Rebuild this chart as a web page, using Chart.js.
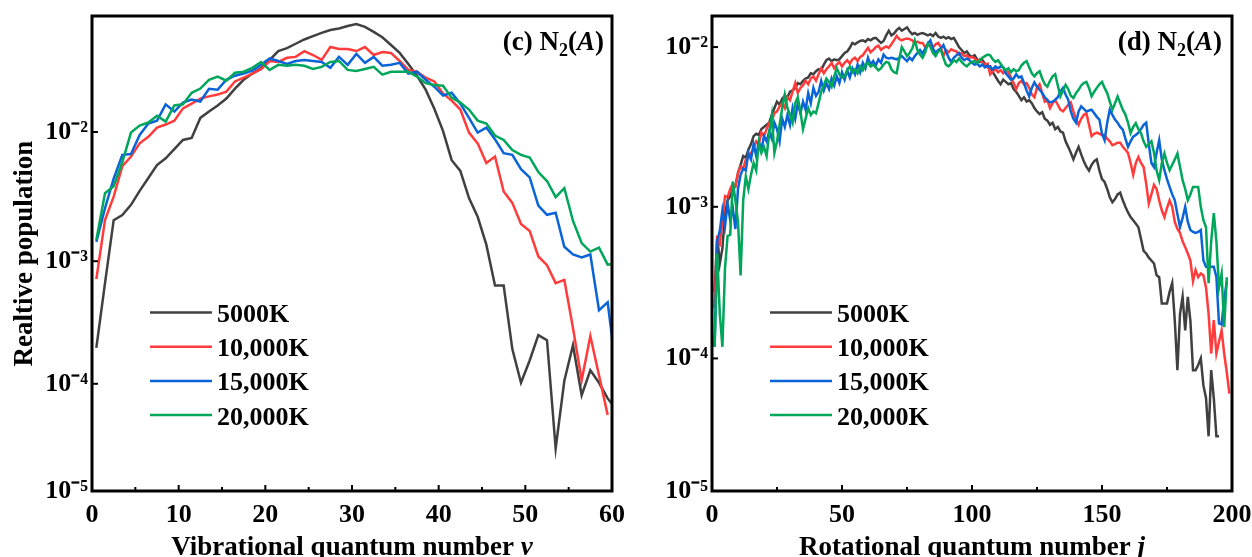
<!DOCTYPE html>
<html><head><meta charset="utf-8">
<script src="https://cdn.jsdelivr.net/npm/chart.js@4.4.1/dist/chart.umd.min.js"></script>
<style>
html,body{margin:0;padding:0;background:#fff;}
#wrap{position:relative;width:1252px;height:557px;overflow:hidden;background:#fff;}
canvas{position:absolute;top:0;}
#c1{left:0;} #c2{left:626px;}
</style></head><body>
<div id="wrap"><canvas id="c1" width="626" height="557" style="width:626px;height:557px"></canvas><canvas id="c2" width="626" height="557" style="width:626px;height:557px"></canvas></div>
<script>
// ---------------- DATA ----------------
const seriesLabels = ['5000K', '10,000K', '15,000K', '20,000K'];

// Panel (c): vibrational distribution
const vLevels = [0.5,1.5,2.5,3.5,4.5,5.5,6.5,7.5,8.5,9.5,10.5,11.5,12.5,13.5,14.5,15.5,16.5,17.5,18.5,19.5,20.5,21.5,22.5,23.5,24.5,25.5,26.5,27.5,28.5,29.5,30.5,31.5,32.5,33.5,34.5,35.5,36.5,37.5,38.5,39.5,40.5,41.5,42.5,43.5,44.5,45.5,46.5,47.5,48.5,49.5,50.5,51.5,52.5,53.5,54.5,55.5,56.5,57.5,58.5,59.5,60.5];
const vib5000 = [2.0e-4,6.7e-4,2.1e-3,2.3e-3,2.76e-3,3.54e-3,4.45e-3,5.6e-3,6.3e-3,7.4e-3,
 8.7e-3,9.0e-3,1.28e-2,1.43e-2,1.59e-2,1.79e-2,2.13e-2,2.48e-2,2.76e-2,3.03e-2,
 3.49e-2,4.06e-2,4.28e-2,4.61e-2,4.96e-2,5.25e-2,5.56e-2,5.83e-2,5.98e-2,6.25e-2,
 6.47e-2,6.15e-2,5.65e-2,5.15e-2,4.51e-2,3.94e-2,3.26e-2,2.66e-2,2.09e-2,1.50e-2,
 1.02e-2,6.1e-3,5.05e-3,3.12e-3,2.23e-3,1.35e-3,6.4e-4,6.4e-4,1.95e-4,1.02e-4,
 1.57e-4,2.54e-4,2.31e-4,2.7e-5,1.06e-4,2.1e-4,8.0e-5,1.30e-4,1.02e-4,7.5e-5,6.0e-5];
const vib10000 = [7.2e-4,2.1e-3,3.2e-3,5.5e-3,6.5e-3,8.2e-3,9.2e-3,1.08e-2,1.14e-2,1.22e-2,
 1.51e-2,1.64e-2,1.79e-2,1.86e-2,1.92e-2,2.02e-2,2.41e-2,2.57e-2,2.76e-2,2.98e-2,
 3.43e-2,3.37e-2,3.62e-2,3.68e-2,4.06e-2,3.80e-2,3.49e-2,4.36e-2,4.21e-2,4.21e-2,
 4.07e-2,4.36e-2,3.80e-2,4.0e-2,3.94e-2,3.43e-2,2.94e-2,2.85e-2,2.57e-2,2.41e-2,
 1.96e-2,1.73e-2,1.48e-2,9.9e-3,8.2e-3,5.8e-3,6.5e-3,3.5e-3,2.86e-3,1.96e-3,
 1.73e-3,1.09e-3,9.3e-4,6.7e-4,7.1e-4,2.9e-4,1.07e-4,2.5e-4,1.18e-4,5.4e-5];
const vib15000 = [1.42e-3,2.6e-3,4.4e-3,6.7e-3,6.8e-3,9.5e-3,1.16e-2,1.22e-2,1.62e-2,1.43e-2,
 1.67e-2,1.76e-2,1.70e-2,2.12e-2,2.09e-2,2.48e-2,2.66e-2,2.76e-2,2.90e-2,3.21e-2,
 3.58e-2,3.43e-2,3.26e-2,3.43e-2,3.49e-2,3.43e-2,3.37e-2,3.05e-2,3.68e-2,3.21e-2,
 3.87e-2,3.32e-2,3.68e-2,3.16e-2,3.21e-2,3.32e-2,2.76e-2,2.85e-2,2.48e-2,2.20e-2,
 1.89e-2,1.98e-2,1.64e-2,1.28e-2,9.9e-3,1.08e-2,8.8e-3,6.9e-3,6.7e-3,5.2e-3,
 4.5e-3,2.72e-3,2.31e-3,2.40e-3,1.30e-3,1.13e-3,1.07e-3,1.13e-3,4.06e-4,4.7e-4,1.25e-4];
const vib20000 = [1.47e-3,3.4e-3,3.85e-3,5.9e-3,9.9e-3,1.12e-2,1.18e-2,1.33e-2,1.20e-2,1.59e-2,
 1.62e-2,1.98e-2,2.13e-2,2.48e-2,2.62e-2,2.44e-2,2.80e-2,2.85e-2,3.05e-2,3.37e-2,
 2.94e-2,3.21e-2,3.16e-2,3.21e-2,3.16e-2,2.99e-2,3.10e-2,3.37e-2,3.43e-2,2.94e-2,
 2.89e-2,2.99e-2,3.10e-2,2.71e-2,2.85e-2,2.85e-2,2.85e-2,2.62e-2,2.34e-2,2.27e-2,
 2.24e-2,1.82e-2,1.67e-2,1.48e-2,1.22e-2,1.16e-2,9.4e-3,8.7e-3,7.3e-3,6.7e-3,
 6.4e-3,4.95e-3,4.22e-3,3.17e-3,3.72e-3,2.07e-3,1.39e-3,1.19e-3,1.28e-3,9.4e-4,9.5e-4];

// Panel (d): rotational distribution
const jLevels = [1,2,3,4,5,6,7,8,9,10,11,12,13,14,15,16,17,18,19,20,21,22,23,24,25,26,27,28,29,30,
 31,32,33,34,35,36,37,38,39,40,41,42,43,44,45,46,47,48,49,50,51,52,53,54,55,56,57,58,59,60,
 61,62,63,64,65,66,67,68,69,70,71,72,73,74,75,76,77,78,79,80,81,82,83,84,85,86,87,88,89,90,
 91,92,93,94,95,96,97,98,99,100,101,102,103,104,105,106,107,108,109,110,111,112,113,114,115,116,117,118,119,120,
 121,122,123,124,125,126,127,128,129,130,131,132,133,134,135,136,137,138,139,140,141,142,143,144,145,146,147,148,149,150,
 151,152,153,154,155,156,157,158,159,160,161,162,163,164,165,166,167,168,169,170,171,172,173,174,175,176,177,178,179,180,
 181,182,183,184,185,186,187,188,189,190,191,192,193,194,195,196,197,198,199];
const rot5000 = [2.8e-4,6.5e-4,4.3e-4,5.4e-4,9.0e-4,1.1e-3,1.17e-3,1.3e-3,1.35e-3,1.64e-3,
 1.85e-3,2.1e-3,2.05e-3,2.3e-3,2.5e-3,2.8e-3,2.9e-3,2.85e-3,3.1e-3,3.2e-3,
 3.3e-3,3.4e-3,3.8e-3,4.2e-3,4.6e-3,4.4e-3,4.8e-3,5.0e-3,4.9e-3,5.3e-3,
 5.4e-3,5.6e-3,6.0e-3,5.9e-3,6.2e-3,6.4e-3,6.5e-3,6.9e-3,6.8e-3,7.1e-3,
 7.3e-3,7.2e-3,7.8e-3,8.3e-3,8.5e-3,8.2e-3,8.4e-3,8.3e-3,8.4e-3,8.8e-3,
 9.2e-3,9.4e-3,9.9e-3,1.06e-2,1.04e-2,1.07e-2,1.09e-2,1.1e-2,1.08e-2,1.12e-2,
 1.1e-2,1.13e-2,1.14e-2,1.1e-2,1.06e-2,1.09e-2,1.18e-2,1.26e-2,1.18e-2,1.21e-2,
 1.27e-2,1.31e-2,1.26e-2,1.29e-2,1.32e-2,1.25e-2,1.2e-2,1.22e-2,1.19e-2,1.21e-2,
 1.22e-2,1.2e-2,1.18e-2,1.2e-2,1.17e-2,1.22e-2,1.16e-2,1.14e-2,1.16e-2,1.13e-2,
 1.15e-2,1.12e-2,1.14e-2,1.07e-2,1.0e-2,9.6e-3,9.2e-3,9.4e-3,8.9e-3,8.7e-3,
 8.9e-3,8.4e-3,8.1e-3,8.3e-3,7.9e-3,7.5e-3,7.6e-3,7.0e-3,6.6e-3,6.2e-3,
 5.9e-3,6.3e-3,6.1e-3,5.9e-3,6.0e-3,5.5e-3,5.3e-3,5.0e-3,4.7e-3,4.9e-3,
 4.6e-3,4.7e-3,4.5e-3,4.2e-3,4.0e-3,3.85e-3,3.95e-3,3.6e-3,3.5e-3,3.3e-3,
 3.4e-3,3.1e-3,3.2e-3,3.0e-3,2.95e-3,2.6e-3,2.4e-3,2.2e-3,2.0e-3,2.2e-3,
 2.4e-3,2.15e-3,1.95e-3,1.8e-3,1.7e-3,1.85e-3,1.95e-3,2.0e-3,1.7e-3,1.5e-3,
 1.44e-3,1.3e-3,1.15e-3,1.07e-3,1.12e-3,1.2e-3,1.23e-3,1.1e-3,1.0e-3,9.2e-4,
 8.6e-4,8.2e-4,7.8e-4,7.4e-4,6.2e-4,5.2e-4,5.0e-4,4.7e-4,4.5e-4,4.3e-4,
 3.6e-4,3.5e-4,2.35e-4,2.35e-4,2.35e-4,2.8e-4,3.2e-4,1.8e-4,8.3e-5,2.0e-4,
 2.6e-4,1.55e-4,2.6e-4,1.8e-4,8.3e-5,8.3e-5,9.0e-5,1.0e-4,6.5e-5,5.3e-5,
 2.8e-5,8.3e-5,5.3e-5,2.8e-5,2.8e-5];
const rot10000 = [2.2e-4,6.2e-4,5.8e-4,8.0e-4,1.17e-3,1.15e-3,1.3e-3,1.4e-3,1.35e-3,1.64e-3,
 1.8e-3,1.75e-3,2.0e-3,2.05e-3,2.2e-3,2.33e-3,2.6e-3,2.5e-3,2.95e-3,2.8e-3,
 3.1e-3,3.4e-3,3.5e-3,3.9e-3,4.0e-3,4.3e-3,4.5e-3,4.2e-3,4.9e-3,4.7e-3,
 5.3e-3,6.0e-3,5.2e-3,5.6e-3,5.8e-3,6.2e-3,5.9e-3,6.4e-3,6.6e-3,6.2e-3,
 6.8e-3,7.4e-3,6.9e-3,7.3e-3,7.6e-3,8.0e-3,7.4e-3,7.8e-3,8.1e-3,7.6e-3,
 8.0e-3,8.3e-3,7.9e-3,8.4e-3,8.6e-3,8.2e-3,8.7e-3,8.9e-3,9.4e-3,9.9e-3,
 9.3e-3,9.6e-3,1.0e-2,1.02e-2,9.6e-3,9.9e-3,1.01e-2,9.9e-3,1.04e-2,1.1e-2,
 1.17e-2,1.12e-2,1.1e-2,1.12e-2,1.13e-2,1.12e-2,1.1e-2,1.05e-2,1.08e-2,1.06e-2,
 1.06e-2,1.0e-2,1.03e-2,1.03e-2,1.0e-2,1.04e-2,1.06e-2,1.0e-2,8.8e-3,9.6e-3,
 9.3e-3,9.7e-3,9.5e-3,9.4e-3,9.0e-3,9.2e-3,8.8e-3,8.9e-3,8.6e-3,8.7e-3,
 8.5e-3,8.2e-3,8.4e-3,8.0e-3,7.8e-3,7.9e-3,6.8e-3,7.1e-3,7.3e-3,7.0e-3,
 7.2e-3,6.9e-3,7.1e-3,7.0e-3,6.5e-3,6.0e-3,5.5e-3,6.0e-3,6.2e-3,5.9e-3,
 6.0e-3,5.6e-3,5.1e-3,4.9e-3,5.6e-3,5.9e-3,5.2e-3,4.6e-3,4.7e-3,4.2e-3,
 4.5e-3,4.7e-3,4.4e-3,4.1e-3,4.0e-3,4.2e-3,4.4e-3,4.55e-3,4.0e-3,3.6e-3,
 3.3e-3,3.6e-3,3.8e-3,3.9e-3,3.3e-3,2.8e-3,2.9e-3,2.95e-3,2.9e-3,2.85e-3,
 2.85e-3,2.7e-3,2.6e-3,2.46e-3,2.5e-3,2.55e-3,2.55e-3,2.4e-3,2.3e-3,2.2e-3,
 1.9e-3,1.6e-3,1.9e-3,2.07e-3,1.9e-3,1.79e-3,1.4e-3,1.05e-3,1.2e-3,1.38e-3,
 1.3e-3,1.1e-3,9.5e-4,8.6e-4,9.8e-4,1.1e-3,1.0e-3,8.0e-4,7.2e-4,6.8e-4,
 6.0e-4,5.5e-4,5.0e-4,4.5e-4,3.3e-4,3.9e-4,3.5e-4,3.7e-4,3.6e-4,3.0e-4,
 2.0e-4,1.08e-4,1.82e-4,1.08e-4,1.3e-4,1.55e-4,1.08e-4,8.0e-5,5.7e-5];
const rot15000 = [1.2e-4,6.0e-4,7.0e-4,9.5e-4,7.5e-4,1.05e-3,8.2e-4,9.8e-4,7.2e-4,1.3e-3,
 1.6e-3,1.75e-3,1.7e-3,2.2e-3,2.0e-3,2.5e-3,2.1e-3,2.6e-3,2.3e-3,2.8e-3,
 2.6e-3,3.0e-3,2.7e-3,3.4e-3,3.1e-3,2.6e-3,3.6e-3,3.2e-3,3.8e-3,3.3e-3,
 4.2e-3,3.6e-3,4.5e-3,3.9e-3,4.6e-3,4.1e-3,5.2e-3,4.5e-3,5.6e-3,5.0e-3,
 5.3e-3,6.2e-3,5.4e-3,6.0e-3,5.5e-3,6.4e-3,5.8e-3,6.6e-3,6.0e-3,7.0e-3,
 6.3e-3,7.2e-3,6.5e-3,7.4e-3,6.8e-3,7.8e-3,7.0e-3,8.0e-3,7.4e-3,8.6e-3,
 7.8e-3,8.2e-3,7.7e-3,8.4e-3,8.0e-3,9.0e-3,8.6e-3,8.5e-3,8.6e-3,8.5e-3,
 8.4e-3,8.6e-3,8.8e-3,8.5e-3,8.2e-3,8.6e-3,8.3e-3,8.8e-3,9.2e-3,9.6e-3,
 9.1e-3,9.8e-3,1.05e-2,1.1e-2,9.8e-3,9.2e-3,9.6e-3,9.8e-3,1.03e-2,9.4e-3,
 8.6e-3,8.1e-3,8.6e-3,8.9e-3,9.2e-3,8.6e-3,8.3e-3,8.5e-3,8.3e-3,8.0e-3,
 7.8e-3,7.9e-3,7.6e-3,7.8e-3,7.5e-3,7.7e-3,7.5e-3,7.3e-3,7.6e-3,7.4e-3,
 7.6e-3,7.5e-3,6.9e-3,6.6e-3,6.3e-3,6.4e-3,6.8e-3,6.5e-3,6.6e-3,6.0e-3,
 5.4e-3,4.96e-3,5.6e-3,6.05e-3,5.7e-3,5.45e-3,5.2e-3,4.9e-3,4.7e-3,4.55e-3,
 4.6e-3,4.73e-3,4.9e-3,5.3e-3,5.6e-3,5.1e-3,4.73e-3,4.0e-3,3.6e-3,3.4e-3,
 4.0e-3,4.3e-3,4.15e-3,4.0e-3,4.05e-3,4.1e-3,3.9e-3,3.7e-3,3.56e-3,2.9e-3,
 2.64e-3,3.4e-3,4.1e-3,3.8e-3,3.56e-3,3.4e-3,3.2e-3,3.08e-3,2.7e-3,2.4e-3,
 2.6e-3,2.78e-3,2.85e-3,2.95e-3,3.1e-3,3.3e-3,3.4e-3,2.5e-3,1.9e-3,1.79e-3,
 2.2e-3,2.64e-3,2.0e-3,1.71e-3,1.5e-3,1.34e-3,1.2e-3,1.1e-3,9.0e-4,7.4e-4,
 8.5e-4,1.0e-3,8.0e-4,7.1e-4,6.9e-4,6.8e-4,6.9e-4,7.1e-4,4.5e-4,4.1e-4,
 4.1e-4,4.1e-4,4.1e-4,3.5e-4,1.73e-4,1.7e-4,2.5e-4,3.3e-4];
const rot20000 = [1.2e-4,5.0e-4,2.0e-4,1.2e-4,4.0e-4,6.5e-4,6.6e-4,1.45e-3,1.1e-3,8.0e-4,
 3.6e-4,1.1e-3,1.56e-3,1.3e-3,1.6e-3,1.9e-3,1.7e-3,2.55e-3,2.2e-3,2.4e-3,
 2.1e-3,2.9e-3,3.75e-3,2.2e-3,2.6e-3,3.3e-3,4.2e-3,5.1e-3,4.2e-3,3.8e-3,
 3.4e-3,4.5e-3,4.9e-3,4.0e-3,3.1e-3,3.6e-3,4.2e-3,3.8e-3,4.0e-3,3.9e-3,
 4.5e-3,5.3e-3,5.8e-3,6.4e-3,6.1e-3,5.7e-3,6.6e-3,7.4e-3,6.8e-3,6.5e-3,
 6.6e-3,7.2e-3,7.6e-3,7.0e-3,7.3e-3,6.9e-3,7.6e-3,7.2e-3,7.8e-3,8.0e-3,
 7.6e-3,7.8e-3,7.5e-3,7.2e-3,7.4e-3,7.8e-3,8.1e-3,8.0e-3,7.3e-3,7.0e-3,
 6.9e-3,8.4e-3,1.0e-2,9.4e-3,8.8e-3,9.2e-3,9.8e-3,1.1e-2,9.6e-3,9.0e-3,
 8.6e-3,9.3e-3,1.05e-2,1.0e-2,9.2e-3,8.8e-3,9.4e-3,9.6e-3,8.6e-3,7.8e-3,
 7.6e-3,7.9e-3,8.3e-3,8.1e-3,8.5e-3,8.1e-3,7.8e-3,7.6e-3,7.9e-3,8.1e-3,
 8.2e-3,8.0e-3,8.3e-3,8.6e-3,8.8e-3,9.0e-3,8.9e-3,8.4e-3,8.1e-3,8.3e-3,
 7.9e-3,7.5e-3,7.2e-3,7.4e-3,7.0e-3,7.3e-3,7.1e-3,7.2e-3,7.7e-3,8.0e-3,
 8.2e-3,7.5e-3,6.9e-3,6.6e-3,6.9e-3,7.1e-3,6.4e-3,5.9e-3,5.7e-3,6.2e-3,
 6.6e-3,6.8e-3,5.8e-3,4.96e-3,5.4e-3,5.85e-3,5.5e-3,5.0e-3,4.85e-3,5.2e-3,
 5.45e-3,5.8e-3,6.0e-3,6.1e-3,5.6e-3,4.96e-3,5.3e-3,5.6e-3,5.9e-3,6.1e-3,
 5.6e-3,5.2e-3,4.6e-3,4.1e-3,4.5e-3,4.96e-3,4.5e-3,4.1e-3,3.82e-3,3.4e-3,
 2.93e-3,3.2e-3,3.38e-3,3.1e-3,2.93e-3,2.6e-3,2.4e-3,2.5e-3,2.6e-3,2.2e-3,
 1.7e-3,1.48e-3,1.9e-3,2.18e-3,1.9e-3,1.71e-3,1.85e-3,2.0e-3,2.18e-3,1.8e-3,
 1.48e-3,1.3e-3,1.1e-3,1.2e-3,1.34e-3,1.34e-3,1.34e-3,1.0e-3,8.2e-4,7.4e-4,
 3.2e-4,6.0e-4,9.1e-4,6.0e-4,3.0e-4,3.7e-4,1.63e-4,3.5e-4];

const vibTicksMajor = 10, vibTicksMinor = 5;
const rotTicksMajor = 50, rotTicksMinor = 25;
const yDecadeMin = 1e-5;

// ---------------- STYLE ----------------
const SERIF = '"Liberation Serif", "Times New Roman", Times, serif';
const COLORS = ['#404040', '#ff3b3b', '#0a64d8', '#00a65a'];
const B = s => `bold ${s}px ${SERIF}`;
const BI = s => `italic bold ${s}px ${SERIF}`;

// ---------------- custom log scale (power-distorted log axis, as in the original figure) ----------------
const LogScale = Chart.LogarithmicScale || Chart.registry.getScale('logarithmic');
class PowLogScale extends LogScale {
  _pw() { return (this.options && this.options.power) || 1; }
  getPixelForValue(value) {
    if (value === undefined || value === 0) value = this.min;
    if (value === null || isNaN(value)) return NaN;
    const lmin = Math.log10(this.min), lmax = Math.log10(this.max);
    let f = (Math.log10(value) - lmin) / (lmax - lmin);
    if (f > 0) f = Math.pow(f, this._pw());
    return this.getPixelForDecimal(f);
  }
  getValueForPixel(pixel) {
    let d = this.getDecimalForPixel(pixel);
    if (d > 0) d = Math.pow(d, 1 / this._pw());
    const lmin = Math.log10(this.min), lmax = Math.log10(this.max);
    return Math.pow(10, lmin + d * (lmax - lmin));
  }
}
PowLogScale.id = 'powlog';
PowLogScale.defaults = LogScale.defaults;
Chart.register(PowLogScale);

const SUP = {'-':'\u207B','0':'\u2070','1':'\u00B9','2':'\u00B2','3':'\u00B3','4':'\u2074','5':'\u2075','6':'\u2076','7':'\u2077','8':'\u2078','9':'\u2079'};
const isDecade = v => Math.abs(Math.log10(v) - Math.round(Math.log10(v))) < 1e-6;
const decadeLabel = v => '10' + String(Math.round(Math.log10(v))).split('').map(c => SUP[c]).join('');

function drawRich(ctx, parts, x, y, align) {
  const widths = parts.map(p => { ctx.font = p.font; return ctx.measureText(p.text).width; });
  const total = widths.reduce((a, b) => a + b, 0);
  let cx = align === 'right' ? x - total : (align === 'center' ? x - total / 2 : x);
  ctx.textAlign = 'left'; ctx.textBaseline = 'alphabetic';
  parts.forEach((p, i) => { ctx.font = p.font; ctx.fillText(p.text, cx, y + (p.dy || 0)); cx += widths[i]; });
}

const decorPlugin = {
  id: 'decor',
  afterDatasetsDraw(chart, args, o) {
    const {ctx, chartArea: a, scales: {x, y}} = chart;
    ctx.save();
    ctx.strokeStyle = '#000';
    // tick marks (inward)
    ctx.lineWidth = 2;
    x.ticks.forEach(t => {
      const px = x.getPixelForValue(t.value);
      const len = (Math.round(t.value) % o.major === 0) ? 6 : 4;
      ctx.beginPath(); ctx.moveTo(px, a.bottom); ctx.lineTo(px, a.bottom - len); ctx.stroke();
    });
    y.ticks.forEach(t => {
      const py = y.getPixelForValue(t.value);
      ctx.beginPath(); ctx.moveTo(a.left, py); ctx.lineTo(a.left + 6, py); ctx.stroke();
    });
    // frame
    ctx.lineWidth = 3;
    ctx.strokeRect(a.left, a.top, a.right - a.left, a.bottom - a.top);
    ctx.fillStyle = '#000';
    // panel annotation
    drawRich(ctx, [
      {text: o.panel + ' N', font: B(27)},
      {text: '2', font: B(18), dy: 6},
      {text: '(', font: B(27)},
      {text: 'A', font: BI(27)},
      {text: ')', font: B(27)}
    ], a.right - o.annotGap, a.top + 34, 'right');
    // x-axis title
    drawRich(ctx, [
      {text: o.xTitle, font: B(27)},
      {text: o.xVar, font: BI(27)}
    ], (a.left + a.right) / 2, 555, 'center');
    // legend inside plot
    chart.data.datasets.forEach((ds, i) => {
      const ry = a.top + 296.5 + i * 34.2;
      const lx = a.left + 58;
      ctx.strokeStyle = ds.borderColor; ctx.lineWidth = 2.5;
      ctx.beginPath(); ctx.moveTo(lx, ry); ctx.lineTo(lx + 62, ry); ctx.stroke();
      ctx.fillStyle = '#000'; ctx.font = B(26); ctx.textAlign = 'left'; ctx.textBaseline = 'alphabetic';
      ctx.fillText(ds.label, lx + 67, ry + 9.5);
    });
    ctx.restore();
  }
};

const toPts = (xs, ys) => ys.map((v, i) => ({x: xs[i], y: v}));

function makeChart(id, cfg) {
  const sets = cfg.series.map((s, i) => ({
    label: seriesLabels[i], data: toPts(cfg.xs, s), borderColor: COLORS[i], backgroundColor: COLORS[i],
    borderWidth: 2.5, pointRadius: 0, tension: 0, fill: false, order: 3 - i
  }));
  const tickFont = {family: SERIF, size: 26, weight: 'bold'};
  return new Chart(document.getElementById(id), {
    type: 'line',
    data: {datasets: sets},
    options: {
      responsive: false, animation: false, devicePixelRatio: 1,
      layout: {padding: {left: 0, right: cfg.padRight, top: 16, bottom: 0}},
      plugins: {legend: {display: false}, tooltip: {enabled: false},
        decor: {major: cfg.major, panel: cfg.panel, xTitle: cfg.xTitle, xVar: cfg.xVar, annotGap: cfg.annotGap}},
      scales: {
        x: {
          type: 'linear', min: 0, max: cfg.xMax, bounds: 'data',
          afterFit: s => { s.height = 66; s.paddingLeft = 0; s.paddingRight = 0; },
          grid: {display: false, drawTicks: false}, border: {display: false},
          ticks: {stepSize: cfg.minor, autoSkip: false, maxRotation: 0, padding: 9, font: tickFont, color: '#000',
            callback: v => (Math.round(v) % cfg.major === 0 ? String(v) : '')}
        },
        y: {
          type: 'powlog', power: 1.1, min: yDecadeMin, max: cfg.yMax, bounds: 'data',
          afterBuildTicks: s => { s.ticks = s.ticks.filter(t => isDecade(t.value)); },
          afterFit: s => { s.width = cfg.yWidth; s.paddingTop = 0; s.paddingBottom = 0; },
          grid: {display: false, drawTicks: false}, border: {display: false},
          ticks: {autoSkip: false, padding: 4, font: tickFont, color: '#000', callback: v => decadeLabel(v)},
          title: {display: !!cfg.yTitle, text: cfg.yTitle || '', color: '#000',
            font: {family: SERIF, size: 27, weight: 'bold'}, padding: {top: 9, bottom: 0}}
        }
      }
    },
    plugins: [decorPlugin]
  });
}

makeChart('c1', {
  xs: vLevels, series: [vib5000, vib10000, vib15000, vib20000],
  xMax: 60, major: vibTicksMajor, minor: vibTicksMinor, yMax: 0.0741, yWidth: 92, padRight: 14, annotGap: 8,
  panel: '(c)', xTitle: 'Vibrational quantum number ', xVar: 'v', yTitle: 'Realtive population'
});
makeChart('c2', {
  xs: jLevels, series: [rot5000, rot10000, rot15000, rot20000],
  xMax: 200, major: rotTicksMajor, minor: rotTicksMinor, yMax: 0.0155, yWidth: 86, padRight: 20, annotGap: 10,
  panel: '(d)', xTitle: 'Rotational quantum number ', xVar: 'j', yTitle: ''
});
</script></body></html>
